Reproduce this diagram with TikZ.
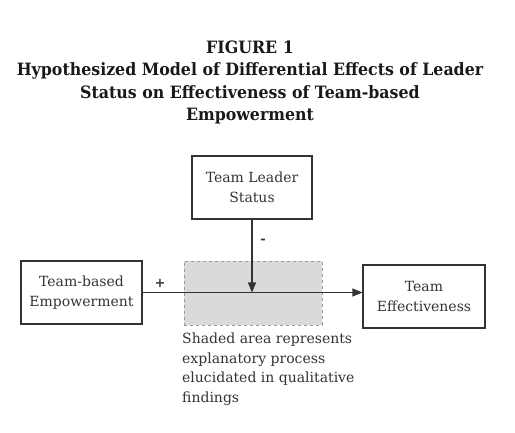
\documentclass[tikz,border=0pt]{standalone}
\usepackage{fontspec}
\setmainfont{DejaVu Serif}
\newfontfamily\titlefont{DejaVu Serif}[FakeStretch=0.93]
\usetikzlibrary{arrows.meta}
\definecolor{ink}{HTML}{333333}
\definecolor{shade}{HTML}{D9DADB}
\definecolor{dashgray}{HTML}{9A9A9A}
\tikzset{
  box/.style={draw=ink, line width=1.1pt, rectangle, align=center, inner sep=0pt,
    font=\fontsize{14}{20}\selectfont, text=ink},
  conn/.style={draw=ink, line width=1.1pt, -{Triangle[length=10pt,width=8pt]}},
  sign/.style={font=\fontsize{13}{13}\selectfont\bfseries, text=ink, inner sep=0pt},
}
\begin{document}
\begin{tikzpicture}[x=1pt,y=-1pt]
\useasboundingbox (0,0) rectangle (515,433);
\node[align=center, font=\titlefont\bfseries\fontsize{17}{22.5}\selectfont, text=black!90] (title) at (250,82.5)
  {FIGURE 1\\Hypothesized Model of Differential Effects of Leader\\Status on Effectiveness of Team-based\\Empowerment};
\node[fill=shade, draw=dashgray, dashed, line width=0.8pt, minimum width=138pt, minimum height=64pt, inner sep=0pt] (shadearea) at (253,293) {};
\node[box, minimum width=120pt, minimum height=63pt] (tls) at (252,187.5) {Team Leader\\Status};
\node[box, minimum width=121pt, minimum height=63pt] (tbe) at (81.5,292.5) {Team-based\\Empowerment};
\node[box, minimum width=122pt, minimum height=63pt] (te) at (424,296.5) {Team\\Effectiveness};
\draw[conn] (tbe.east) -- (tbe.east -| te.west);
\draw[conn] (tls.south) -- (tls.south |- tbe.east);
\node[sign] (plus) at (160,283) {+};
\node[sign] (minus) at (263,241) {-};
\node[anchor=north west, align=left, inner sep=0pt, font=\fontsize{14}{19.5}\selectfont, text=ink] (cap) at (182,333)
  {Shaded area represents\\explanatory process\\elucidated in qualitative\\findings};
\end{tikzpicture}
\end{document}
